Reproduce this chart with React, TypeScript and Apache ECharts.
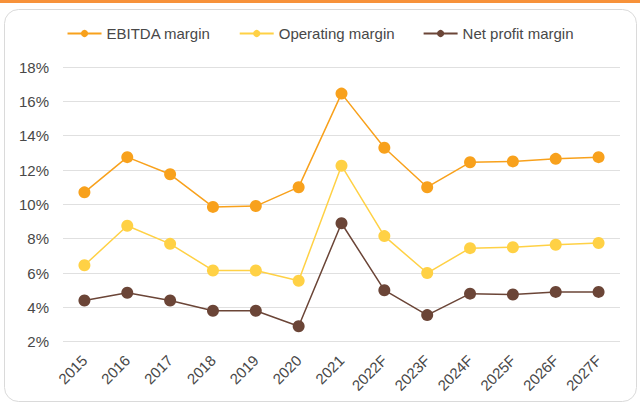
import React, { useEffect, useRef } from "react";
import * as echarts from "echarts";

const categories = ["2015", "2016", "2017", "2018", "2019", "2020", "2021", "2022F", "2023F", "2024F", "2025F", "2026F", "2027F"];
const ebitdaMargin = [10.7, 12.75, 11.75, 9.85, 9.9, 11.0, 16.45, 13.3, 11.0, 12.45, 12.5, 12.65, 12.75];
const operatingMargin = [6.45, 8.75, 7.7, 6.15, 6.15, 5.55, 12.25, 8.15, 6.0, 7.45, 7.5, 7.65, 7.75];
const netProfitMargin = [4.4, 4.85, 4.4, 3.8, 3.8, 2.9, 8.9, 5.0, 3.55, 4.8, 4.75, 4.9, 4.9];
const yTicks = { min: 2, max: 18, interval: 2 };

const FONT = "'Liberation Sans', Arial, sans-serif";
const TEXT = "#484848";

export default function App() {
  const ref = useRef<HTMLDivElement>(null);
  useEffect(() => {
    if (!ref.current) return;
    const chart = echarts.init(ref.current, undefined, { renderer: "svg" });
    const mk = (name: string, data: number[], color: string) => ({
      name,
      type: "line",
      data,
      symbol: "circle",
      symbolSize: 12,
      lineStyle: { color, width: 1.5 },
      itemStyle: { color },
    });
    chart.setOption({
      animation: false,
      backgroundColor: "#ffffff",
      graphic: [
        { type: "rect", shape: { x: 0, y: 0, width: 640, height: 3 }, style: { fill: "#F7923A" }, z: 10 },
        {
          type: "rect",
          shape: { x: 4.5, y: 9.5, width: 632, height: 392, r: 14 },
          style: { fill: "none", stroke: "#DADADA", lineWidth: 1 },
          z: -1,
          silent: true,
        },
      ],
      legend: {
        top: 21,
        left: "center",
        itemWidth: 34,
        itemHeight: 9,
        itemGap: 28,
        textStyle: { fontFamily: FONT, fontSize: 15, color: TEXT },
        data: ["EBITDA margin", "Operating margin", "Net profit margin"],
      },
      grid: { left: 63, right: 20, top: 67, bottom: 63.3, containLabel: false },
      xAxis: {
        type: "category",
        data: categories,
        boundaryGap: true,
        axisLine: { show: false },
        axisTick: { show: false },
        axisLabel: {
          rotate: 45,
          margin: 16,
          fontFamily: FONT,
          fontSize: 15,
          color: TEXT,
          interval: 0,
        },
      },
      yAxis: {
        type: "value",
        min: yTicks.min,
        max: yTicks.max,
        interval: yTicks.interval,
        axisLine: { show: false },
        axisTick: { show: false },
        splitLine: { lineStyle: { color: "#E0E0E0", width: 1 } },
        axisLabel: {
          formatter: "{value}%",
          margin: 14,
          fontFamily: FONT,
          fontSize: 15,
          color: TEXT,
        },
      },
      series: [
        mk("EBITDA margin", ebitdaMargin, "#F8A11C"),
        mk("Operating margin", operatingMargin, "#FFD145"),
        mk("Net profit margin", netProfitMargin, "#6B4537"),
      ],
    });
    return () => chart.dispose();
  }, []);
  return <div ref={ref} style={{ position: "fixed", left: 0, top: 0, width: 640, height: 405 }} />;
}
